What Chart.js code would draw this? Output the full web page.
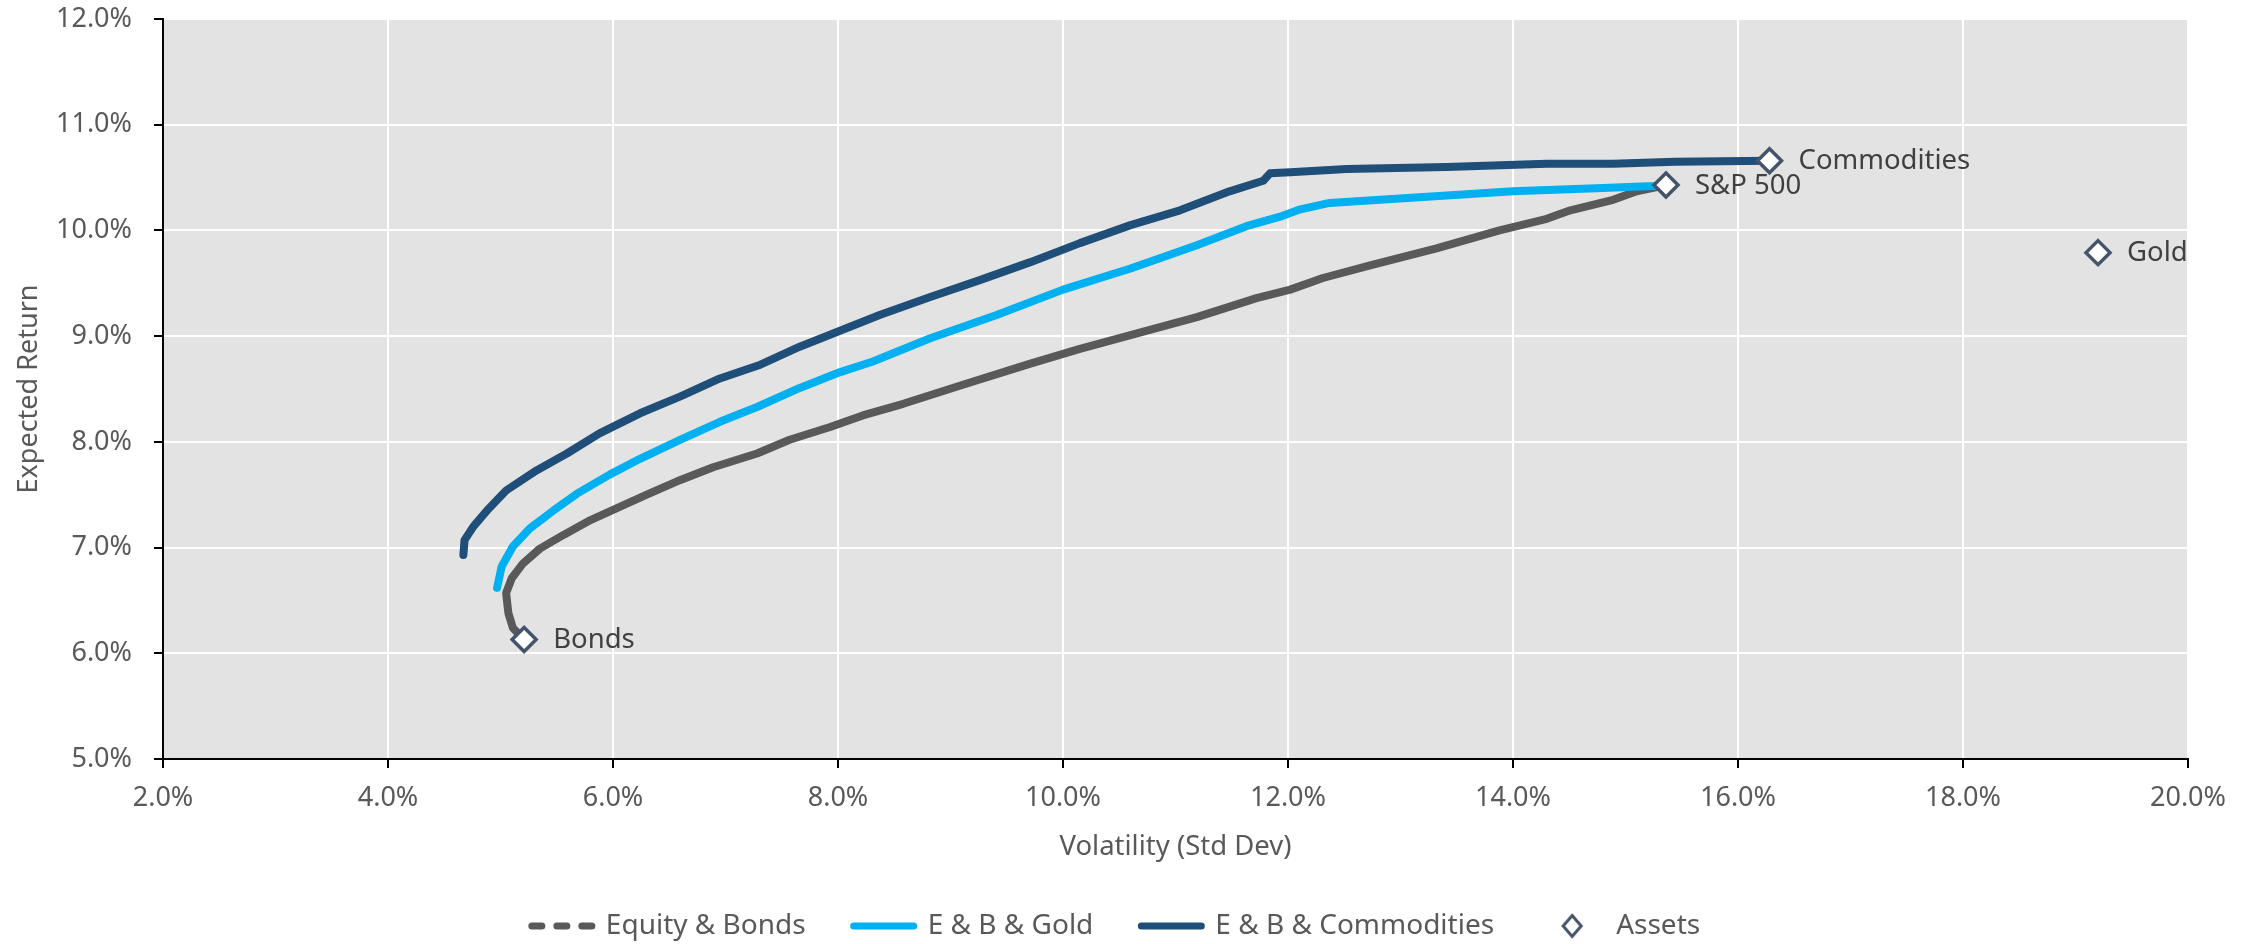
<!DOCTYPE html>
<html>
<head>
<meta charset="utf-8">
<script src="https://cdn.jsdelivr.net/npm/chart.js@4.4.1/dist/chart.umd.min.js"></script>
<style>
  html, body { margin: 0; padding: 0; background: #ffffff; }
  #wrap { width: 2249px; height: 944px; position: relative; }
</style>
</head>
<body>
<div id="wrap"><canvas id="c"></canvas></div>
<script>
// ---- Data (volatility %, expected return %) ----
const seriesNames = ['Equity & Bonds', 'E & B & Gold', 'E & B & Commodities', 'Assets'];

const ebVol = [5.21, 5.11, 5.07, 5.05, 5.10, 5.20, 5.35, 5.56, 5.80, 6.03, 6.30, 6.60, 6.89, 7.28, 7.57, 7.93, 8.22, 8.58, 9.11, 9.71, 10.15, 10.60, 11.19, 11.72, 12.02, 12.31, 12.73, 13.32, 13.88, 14.30, 14.51, 14.89, 15.10, 15.36];
const ebRet = [6.13, 6.24, 6.38, 6.57, 6.71, 6.85, 6.99, 7.12, 7.26, 7.37, 7.50, 7.64, 7.76, 7.89, 8.02, 8.14, 8.25, 8.36, 8.54, 8.74, 8.88, 9.01, 9.18, 9.36, 9.44, 9.55, 9.67, 9.83, 10.00, 10.11, 10.19, 10.29, 10.37, 10.43];

const goldVol = [4.97, 5.01, 5.11, 5.26, 5.47, 5.68, 5.97, 6.24, 6.60, 6.95, 7.28, 7.66, 8.02, 8.31, 8.82, 9.41, 10.00, 10.60, 11.19, 11.63, 11.93, 12.11, 12.37, 12.82, 13.41, 14.00, 14.74, 15.25, 15.36];
const goldRet = [6.62, 6.82, 7.01, 7.18, 7.35, 7.51, 7.69, 7.84, 8.02, 8.19, 8.33, 8.51, 8.66, 8.76, 8.98, 9.20, 9.44, 9.64, 9.86, 10.04, 10.13, 10.20, 10.26, 10.29, 10.33, 10.37, 10.40, 10.42, 10.43];

const comVol = [4.67, 4.68, 4.76, 4.88, 5.05, 5.32, 5.59, 5.88, 6.24, 6.60, 6.95, 7.31, 7.66, 7.99, 8.37, 8.82, 9.26, 9.71, 10.15, 10.60, 11.04, 11.48, 11.78, 11.84, 12.02, 12.52, 13.41, 14.30, 14.89, 15.44, 16.28];
const comRet = [6.93, 7.07, 7.20, 7.35, 7.54, 7.73, 7.89, 8.08, 8.27, 8.43, 8.60, 8.73, 8.90, 9.04, 9.20, 9.37, 9.53, 9.70, 9.88, 10.05, 10.19, 10.37, 10.47, 10.54, 10.55, 10.58, 10.60, 10.63, 10.63, 10.65, 10.66];

const assetNames = ['Bonds', 'S&P 500', 'Commodities', 'Gold'];
const assetVol = [5.21, 15.36, 16.28, 19.20];
const assetRet = [6.13, 10.43, 10.66, 9.79];

const xTicks = [2, 4, 6, 8, 10, 12, 14, 16, 18, 20];
const yTicks = [5, 6, 7, 8, 9, 10, 11, 12];

// ---- helpers ----
const pts = (xs, ys) => xs.map((x, i) => ({ x: x, y: ys[i] }));
const pct = v => v.toFixed(1) + '%';

const FONT = 'Noto Sans';
Chart.defaults.font.family = FONT;
Chart.defaults.font.size = 27;
Chart.defaults.color = '#595959';

const GRAY = '#595959', CYAN = '#00b0f0', NAVY = '#1f4e79', MARK = '#44546a';

// legend diamond icon for the Assets series
const diamondIcon = (() => {
  const c = document.createElement('canvas');
  c.width = 28; c.height = 28;
  const g = c.getContext('2d');
  g.beginPath();
  g.moveTo(14, 3.5); g.lineTo(23, 14); g.lineTo(14, 24.5); g.lineTo(5, 14); g.closePath();
  g.fillStyle = '#ffffff'; g.fill();
  g.lineWidth = 3; g.strokeStyle = MARK; g.lineJoin = 'miter'; g.stroke();
  return c;
})();

const legendStyle = [
  { pointStyle: 'line', strokeStyle: GRAY, fillStyle: GRAY, lineWidth: 7, lineDash: [10, 15], lineCap: 'round' },
  { pointStyle: 'line', strokeStyle: CYAN, fillStyle: CYAN, lineWidth: 7, lineDash: [], lineCap: 'round' },
  { pointStyle: 'line', strokeStyle: NAVY, fillStyle: NAVY, lineWidth: 7, lineDash: [], lineCap: 'round' },
  { pointStyle: diamondIcon, strokeStyle: MARK, fillStyle: '#ffffff', lineWidth: 3, lineDash: [], lineCap: 'butt' }
];

const plotBg = {
  id: 'plotBg',
  beforeLayout(chart) {
    // fixed legend band height at the bottom of the canvas
    const lg = chart.legend;
    if (lg && !lg._fixedFit) {
      const orig = lg.fit.bind(lg);
      lg.fit = function () { orig(); this.height = 80; };
      lg._fixedFit = true;
    }
  },
  afterLayout(chart) {
    // nudge the centred legend row to the reference position
    const lg = chart.legend;
    if (lg) { lg.left += 22; lg.right += 22; }
  },
  beforeDraw(chart) {
    const { ctx, chartArea: a } = chart;
    ctx.save();
    ctx.fillStyle = '#e3e3e3';
    ctx.fillRect(a.left, a.top, a.right - a.left, a.bottom - a.top);
    ctx.restore();
  }
};

const assetLabels = {
  id: 'assetLabels',
  afterDatasetsDraw(chart) {
    const meta = chart.getDatasetMeta(3);
    const ctx = chart.ctx;
    ctx.save();
    ctx.font = '27.5px "' + FONT + '"';
    ctx.fillStyle = '#404040';
    ctx.textAlign = 'left';
    ctx.textBaseline = 'middle';
    meta.data.forEach((el, i) => {
      ctx.fillText(assetNames[i], el.x + 29, el.y + 1);
    });
    ctx.restore();
  }
};

const lineDs = (label, data, color) => ({
  label, data, showLine: true, borderColor: color, backgroundColor: color,
  borderWidth: 8, pointRadius: 0, pointHoverRadius: 0, tension: 0,
  borderJoinStyle: 'round', borderCapStyle: 'round'
});

new Chart(document.getElementById('c'), {
  type: 'scatter',
  data: {
    datasets: [
      Object.assign(lineDs(seriesNames[0], pts(ebVol, ebRet), GRAY), { order: 3 }),
      Object.assign(lineDs(seriesNames[1], pts(goldVol, goldRet), CYAN), { order: 2 }),
      Object.assign(lineDs(seriesNames[2], pts(comVol, comRet), NAVY), { order: 1 }),
      { label: seriesNames[3], data: pts(assetVol, assetRet), showLine: false, pointStyle: 'rectRot',
        pointRadius: 12, pointHoverRadius: 12, pointBorderWidth: 3.5, pointBackgroundColor: '#ffffff',
        pointBorderColor: MARK, backgroundColor: '#ffffff', borderColor: MARK, order: 0 }
    ]
  },
  options: {
    responsive: true,
    maintainAspectRatio: false,
    animation: false,
    layout: { padding: { left: 0, right: 61, top: 19, bottom: 0 } },
    scales: {
      x: {
        type: 'linear', min: 2, max: 20,
        afterBuildTicks: s => { s.ticks = xTicks.map(v => ({ value: v })); },
        ticks: { callback: v => pct(v), padding: 14, color: '#595959', font: { size: 27 } },
        grid: { color: '#ffffff', lineWidth: 2, tickColor: '#000000', tickLength: 9, tickWidth: 2 },
        border: { color: '#000000', width: 2 },
        title: { display: true, text: 'Volatility (Std Dev)', color: '#595959', font: { size: 27.5 }, padding: { top: 4, bottom: 0 } },
        afterFit: s => { s.height = 105; }
      },
      y: {
        type: 'linear', min: 5, max: 12,
        afterBuildTicks: s => { s.ticks = yTicks.map(v => ({ value: v })); },
        ticks: { callback: v => pct(v), padding: 22, color: '#595959', font: { size: 27 } },
        grid: { color: '#ffffff', lineWidth: 2, tickColor: '#000000', tickLength: 9, tickWidth: 2 },
        border: { color: '#000000', width: 2 },
        title: { display: true, text: 'Expected Return', color: '#595959', font: { size: 27 }, padding: { top: 13, bottom: 0 } },
        afterFit: s => { s.width = 163; s.paddingTop = 16; s.paddingBottom = 16; }
      }
    },
    plugins: {
      tooltip: { enabled: false },
      legend: {
        position: 'bottom',
        labels: {
          usePointStyle: true,
          pointStyleWidth: 60,
          boxHeight: 12,
          padding: 48,
          color: '#595959',
          font: { size: 28 },
          sort: (a, b) => a.datasetIndex - b.datasetIndex,
          generateLabels: chart => chart.data.datasets.map((ds, i) => Object.assign({
            text: ds.label, datasetIndex: i, hidden: false, fontColor: '#595959'
          }, legendStyle[i]))
        }
      }
    }
  },
  plugins: [plotBg, assetLabels]
});
</script>
</body>
</html>
